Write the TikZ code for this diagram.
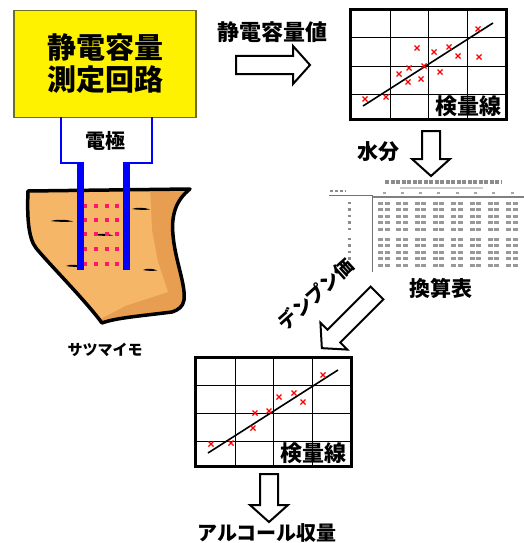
\documentclass[tikz,border=0pt]{standalone}
\usepackage{fontspec}
\setmainfont{Noto Sans CJK JP}[BoldFont={Noto Sans CJK JP Black}]

\definecolor{potatoskin}{RGB}{245,182,104}
\definecolor{potatoshade}{RGB}{232,158,80}
\definecolor{probe}{RGB}{0,0,255}
\definecolor{fieldpt}{RGB}{255,20,110}
\definecolor{boxedge}{RGB}{110,110,40}

\tikzset{
  lbl/.style={font=\bfseries\fontsize{#1}{#1}\selectfont, inner sep=0pt},
  gridline/.style={black, line width=1pt},
  chartframe/.style={black, line width=3pt},
  fitline/.style={black, line width=1.6pt},
  xmark/.style={red, line width=1.3pt},
  arrowedge/.style={draw=black, fill=white, line width=2pt, line join=miter},
  cellink/.style={black!40, line width=3pt, dash pattern=on 5pt off 1.5pt},
  pics/blockarrow/.style={code={
    \draw[arrowedge] (0,-9) -- (#1-17,-9) -- (#1-17,-19) -- (#1,0)
      -- (#1-17,19) -- (#1-17,9) -- (0,9) -- cycle;
  }},
  pics/calcurve/.style={code={
    \foreach \gx in {40,78,117} \draw[gridline] (\gx,0) -- (\gx,109);
    \foreach \gy in {28,56,84} \draw[gridline] (0,\gy) -- (156,\gy);
    \draw[chartframe] (0,0) rectangle (156,109);
    \draw[fitline] (13,96) -- (143,13);
    \node[lbl=22] (-lbl) at (118,96) {検量線};
  }},
}

\begin{document}
\begin{tikzpicture}[x=1pt,y=-1pt]
\useasboundingbox (0,0) rectangle (524,543);

% measuring circuit
\node[draw=boxedge, line width=1.5pt, fill=yellow, minimum width=182pt, minimum height=107pt,
  align=center, font=\bfseries\fontsize{29}{32}\selectfont] (meter) at (105,64) {静電容量\\測定回路};

% sweet potato
\begin{scope}
\clip (28,191) -- (190,189) .. controls (176,200) and (171,215) .. (173,235)
  .. controls (175,260) and (186,285) .. (184,300) .. controls (183,307) and (178,310) .. (172,312)
  .. controls (140,316) and (115,318) .. (102,323)
  .. controls (85,300) and (50,265) .. (36,248) .. controls (28,238) and (27,215) .. cycle;
\fill[potatoshade] (20,180) rectangle (200,330);
\fill[potatoskin] (20,185) -- (150,185) -- (152,230) -- (158,262) -- (168,292)
  -- (125,306) -- (95,322) -- (20,322) -- cycle;
\end{scope}
\draw[line width=3.5pt, line join=round] (28,191) -- (190,189)
  .. controls (176,200) and (171,215) .. (173,235)
  .. controls (175,260) and (186,285) .. (184,300) .. controls (183,307) and (178,310) .. (172,312)
  .. controls (140,316) and (115,318) .. (102,323)
  .. controls (85,300) and (50,265) .. (36,248) .. controls (28,238) and (27,215) .. cycle;
\foreach \mx/\my/\ml in {62/221/22, 141/209/18, 104/235/18, 74/266/16, 150/270/14}
  \fill[shift={(\mx,\my)}] (-\ml/2,0) .. controls (-\ml/4,-2) and (\ml/4,-1.5) .. (\ml/2,0.5)
    .. controls (\ml/4,1) and (-\ml/4,1) .. cycle;
\foreach \dx in {85,96,107,117}
  \foreach \dy in {206,220,234,249,264}
    \fill[fieldpt] (\dx-1.8,\dy-1.8) rectangle (\dx+1.8,\dy+1.8);

% electrodes
\draw[probe, line width=2.5pt] (61,117) -- (61,163) -- (84,163);
\draw[probe, line width=2.5pt] (152,117) -- (152,163) -- (123,163);
\draw[probe, line width=7pt] (80.5,161.8) -- (80.5,270);
\draw[probe, line width=7pt] (126.5,161.8) -- (126.5,270);
\node[lbl=20] (elec) at (105,141) {電極};
\node[lbl=15] (imo) at (105,350) {サツマイモ};

% capacitance -> calibration curve
\node[lbl=22] (capval) at (272,32) {静電容量値};
\pic at (236,65) {blockarrow=74};
\pic (curveA) at (350,10) {calcurve};
\foreach \px/\py in {15/89, 36/87, 49/64, 59/58, 58/72, 71/69, 74/56, 67/38,
    84/42, 90/62, 99/37, 108/46, 129/47, 128/19}
  \draw[xmark, shift={(350,10)}] (\px-2.5,\py-2.5) -- (\px+2.5,\py+2.5)
    (\px-2.5,\py+2.5) -- (\px+2.5,\py-2.5);

% moisture -> conversion table
\node[lbl=21] (water) at (378,152) {水分};
\pic[rotate=-90] at (431,131) {blockarrow=45};
\draw[black!45, line width=3.5pt, dash pattern=on 4pt off 1.5pt] (385,182) -- (502,182);
\draw[black!20, line width=2pt] (400,188) -- (483,188);
\draw[black!45, line width=2pt, dash pattern=on 3pt off 2pt] (330,190.5) -- (346,190.5);
\draw[black!55, line width=1pt] (329,195) -- (372,195);
\foreach \tc in {0,...,7}
  \draw[black!35, line width=2pt] (384+18.3*\tc-1.5,192.5) -- ++(3,0);
\draw[black!50, line width=1.2pt] (373,197) -- (524,197);
\draw[black!55, line width=1pt] (372,195) -- (372,272);
\foreach \ty in {203,209.5,216,222.5,229,239,245.5,252,258.5,265} {
  \draw[black!45, line width=2.5pt] (347.5,\ty) -- (351,\ty);
  \foreach \tc in {0,...,7}
    \draw[cellink] (384+18.3*\tc-6,\ty) -- ++(12,0);
}
\node[lbl=21] (convtab) at (441,288) {換算表};

% starch value -> second curve
\node[lbl=19, rotate=42] (starch) at (316,294) {デンプン価};
\pic[rotate=225] at (377,293) {blockarrow=78};
\pic (curveB) at (195,357) {calcurve};
\foreach \px/\py in {16/87, 36/86, 58/71, 60/56, 74/54, 84/40, 99/36, 108/45, 128/18}
  \draw[xmark, shift={(195,357)}] (\px-2.5,\py-2.5) -- (\px+2.5,\py+2.5)
    (\px-2.5,\py+2.5) -- (\px+2.5,\py-2.5);

% alcohol yield
\pic[rotate=-90] at (269,474) {blockarrow=48};
\node[lbl=20] (yield) at (267,533) {アルコール収量};
\end{tikzpicture}
\end{document}
